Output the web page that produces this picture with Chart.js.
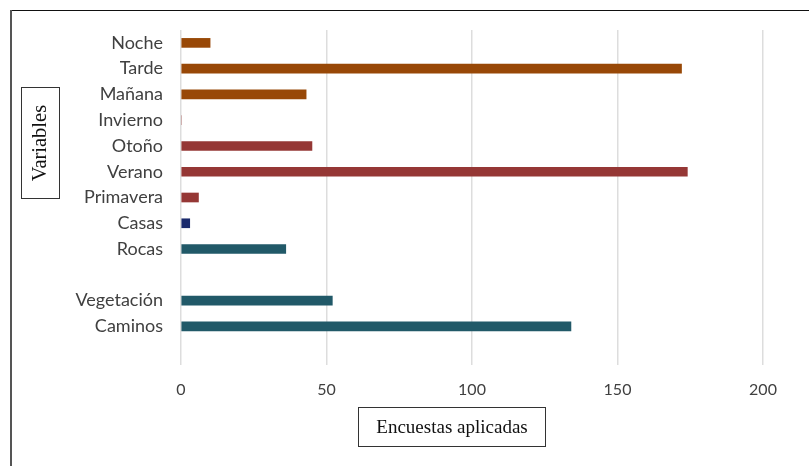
<!DOCTYPE html>
<html lang="es">
<head>
<meta charset="utf-8">
<title>Encuestas aplicadas por variable</title>
<script src="https://cdn.jsdelivr.net/npm/chart.js@4/dist/chart.umd.min.js"></script>
<style>
  html, body { margin: 0; padding: 0; background: #ffffff; }
  #wrap { width: 809px; height: 466px; position: relative; }
</style>
</head>
<body>
<div id="wrap"><canvas id="chart" width="809" height="466"></canvas></div>
<script>
// Variables observed (top to bottom); empty strings are spacer rows
const categories = ['Noche', 'Tarde', 'Mañana', 'Invierno', 'Otoño', 'Verano', 'Primavera', 'Casas', 'Rocas', '', 'Vegetación', 'Caminos', ''];
// Number of surveys mentioning each variable
const surveys = [10, 172, 43, 0, 45, 174, 6, 3, 36, null, 52, 134, null];
// Group each variable belongs to
const groups = ['horario', 'horario', 'horario', 'estacion', 'estacion', 'estacion', 'estacion', 'vivienda', 'paisaje', null, 'paisaje', 'paisaje', null];
// Value axis ticks
const xTicks = [0, 50, 100, 150, 200];

const groupColors = {
  horario: '#984807',
  estacion: '#953735',
  vivienda: '#1a2a6c',
  paisaje: '#215968'
};

const yFont = { family: 'Lato, "Open Sans", sans-serif', size: 18 };
const xFont = { family: 'Lato, "Open Sans", sans-serif', size: 16 };

// White page, outer frame and the two boxed axis titles
const framePlugin = {
  id: 'frame',
  beforeDraw(chart) {
    const ctx = chart.ctx;
    ctx.save();
    ctx.fillStyle = '#ffffff';
    ctx.fillRect(0, 0, chart.width, chart.height);
    ctx.restore();
  },
  afterDraw(chart) {
    const ctx = chart.ctx;
    ctx.save();
    // frame: top rule and left rule
    ctx.strokeStyle = '#111111';
    ctx.lineWidth = 1;
    ctx.beginPath();
    ctx.moveTo(11, 10.5);
    ctx.lineTo(chart.width, 10.5);
    ctx.stroke();
    ctx.strokeStyle = '#555555';
    ctx.lineWidth = 2;
    ctx.beginPath();
    ctx.moveTo(11, 10);
    ctx.lineTo(11, chart.height);
    ctx.stroke();

    // vertical axis title box
    ctx.strokeStyle = '#333333';
    ctx.lineWidth = 1;
    ctx.strokeRect(21.5, 87.5, 38, 111);
    ctx.fillStyle = '#111111';
    ctx.font = '20.5px "Liberation Serif", "DejaVu Serif", serif';
    ctx.textAlign = 'center';
    ctx.textBaseline = 'middle';
    ctx.save();
    ctx.translate(41, 143);
    ctx.rotate(-Math.PI / 2);
    ctx.fillText('Variables', 0, 0);
    ctx.restore();

    // horizontal axis title box
    ctx.strokeRect(358.5, 407.5, 187, 39);
    ctx.font = '19px "Liberation Serif", "DejaVu Serif", serif';
    ctx.fillText('Encuestas aplicadas', 452, 428);
    ctx.restore();
  }
};

new Chart(document.getElementById('chart'), {
  type: 'bar',
  data: {
    labels: categories,
    datasets: [{
      data: surveys,
      backgroundColor: groups.map(g => g ? groupColors[g] : 'rgba(0,0,0,0)'),
      borderWidth: 0,
      barThickness: 9
    }]
  },
  options: {
    indexAxis: 'y',
    responsive: false,
    animation: false,
    devicePixelRatio: 1,
    layout: { padding: { top: 30, right: 46, bottom: 61, left: 0 } },
    plugins: {
      legend: { display: false },
      tooltip: { enabled: false }
    },
    scales: {
      x: {
        min: 0,
        max: 200,
        afterBuildTicks(scale) { scale.ticks = xTicks.map(v => ({ value: v })); },
        afterFit(scale) { scale.height = 40; },
        grid: { color: '#dddddd', lineWidth: 1.5, drawTicks: false },
        border: { display: false },
        ticks: { color: '#404040', font: xFont, padding: 15 }
      },
      y: {
        afterFit(scale) { scale.width = 181; },
        grid: { display: false, drawTicks: false },
        border: { display: false },
        ticks: { color: '#404040', font: yFont, padding: 18, autoSkip: false }
      }
    }
  },
  plugins: [framePlugin]
});
</script>
</body>
</html>
